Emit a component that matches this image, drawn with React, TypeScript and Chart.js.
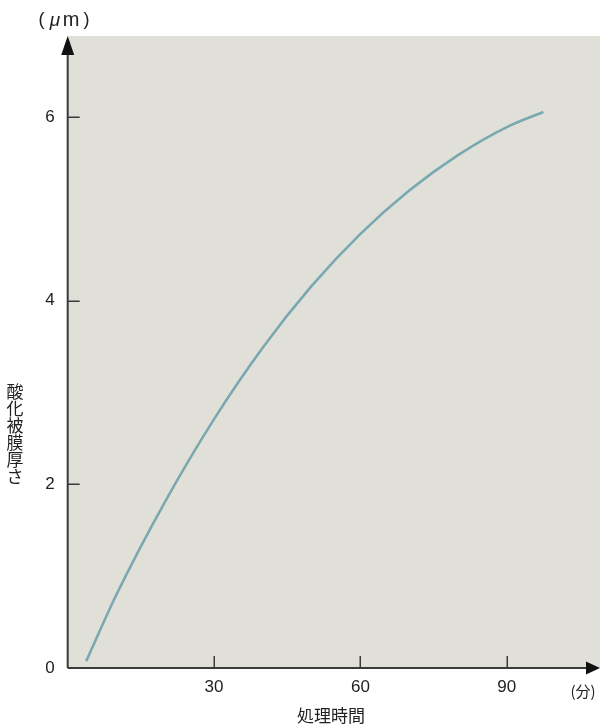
import React, { useEffect, useRef } from "react";
import { Chart, registerables } from "chart.js";

Chart.register(...registerables);

const timeMin: number[] = [3.8, 10, 20, 30, 40, 50, 60, 70, 80, 90, 97.5];
const thickness: number[] = [0.075, 0.8, 1.815, 2.71, 3.49, 4.16, 4.728, 5.2, 5.585, 5.89, 6.055];
const xTicks: number[] = [30, 60, 90];
const yTicks: number[] = [0, 2, 4, 6];
const xTitle = "処理時間";
const xUnit = "(分)";
const yTitle = "酸化被膜厚さ";

const LATIN = "'Liberation Sans', Arial, sans-serif";
const CJK = "'Noto Sans CJK JP', sans-serif";
const AXIS = "#3a3a3a";

const decor = {
  id: "decor",
  beforeDraw(chart: any) {
    const { ctx, chartArea } = chart;
    ctx.save();
    ctx.fillStyle = "#e1e0d8";
    ctx.fillRect(chartArea.left, chartArea.top, chartArea.right - chartArea.left, chartArea.bottom - chartArea.top);
    ctx.restore();
  },
  afterDraw(chart: any) {
    const { ctx, chartArea, scales } = chart;
    const x = scales.x;
    const y = scales.y;
    const x0 = x.getPixelForValue(0);
    const y0 = y.getPixelForValue(0);
    ctx.save();
    ctx.strokeStyle = AXIS;
    ctx.fillStyle = AXIS;
    ctx.lineWidth = 2;
    // axes
    ctx.beginPath();
    ctx.moveTo(x0, y0);
    ctx.lineTo(x0, chartArea.top + 14);
    ctx.moveTo(x0, y0);
    ctx.lineTo(chartArea.right - 12, y0);
    ctx.stroke();
    // arrows
    ctx.fillStyle = "#111";
    ctx.beginPath();
    ctx.moveTo(x0, chartArea.top);
    ctx.lineTo(x0 - 6.5, chartArea.top + 19);
    ctx.lineTo(x0 + 6.5, chartArea.top + 19);
    ctx.closePath();
    ctx.fill();
    ctx.beginPath();
    ctx.moveTo(chartArea.right, y0);
    ctx.lineTo(chartArea.right - 14, y0 - 6.5);
    ctx.lineTo(chartArea.right - 14, y0 + 6.5);
    ctx.closePath();
    ctx.fill();
    // inner ticks
    ctx.strokeStyle = AXIS;
    ctx.lineWidth = 1.5;
    ctx.beginPath();
    yTicks.forEach((v) => {
      if (v === 0) return;
      const py = Math.round(y.getPixelForValue(v)) + 0.25;
      ctx.moveTo(x0, py);
      ctx.lineTo(x0 + 12, py);
    });
    xTicks.forEach((v) => {
      const px = Math.round(x.getPixelForValue(v)) + 0.25;
      ctx.moveTo(px, y0);
      ctx.lineTo(px, y0 - 12);
    });
    ctx.stroke();
    // titles
    ctx.fillStyle = "#222";
    ctx.textAlign = "center";
    ctx.textBaseline = "middle";
    ctx.font = `17px ${CJK}`;
    const chars = Array.from(yTitle);
    chars.forEach((c, i) => {
      ctx.fillText(c, 15, 392 + i * 17);
    });
    ctx.fillText(xTitle, 331, 716);
    ctx.font = `15px ${CJK}`;
    ctx.fillText(xUnit, 583, 691);
    // (μm)
    ctx.font = `18px ${LATIN}`;
    ctx.fillText("(", 41.5, 20);
    ctx.fillText(")", 86.5, 20);
    ctx.font = `italic 19px ${LATIN}`;
    ctx.fillText("μ", 55, 21);
    ctx.font = `20px ${LATIN}`;
    ctx.fillText("m", 71, 20);
    ctx.restore();
  },
};

export default function App() {
  const ref = useRef<HTMLCanvasElement | null>(null);
  useEffect(() => {
    if (!ref.current) return;
    const chart = new Chart(ref.current, {
      type: "line",
      data: {
        datasets: [
          {
            data: timeMin.map((t, i) => ({ x: t, y: thickness[i] })),
            borderColor: "#7aa8b1",
            borderWidth: 2.6,
            pointRadius: 0,
            cubicInterpolationMode: "monotone",
            fill: false,
          },
        ],
      },
      options: {
        animation: false,
        responsive: false,
        maintainAspectRatio: false,
        layout: { padding: { top: 36, right: 0, left: 0, bottom: 0 } },
        plugins: { legend: { display: false }, tooltip: { enabled: false } },
        scales: {
          x: {
            type: "linear",
            min: 0,
            max: 109.1,
            grid: { display: false },
            border: { display: false },
            afterFit: (s: any) => {
              s.height = 56;
            },
            afterBuildTicks: (s: any) => {
              s.ticks = xTicks.map((v) => ({ value: v }));
            },
            ticks: {
              font: { family: LATIN, size: 17 },
              color: "#222",
              padding: 1,
              maxRotation: 0,
              autoSkip: false,
            },
          },
          y: {
            type: "linear",
            min: 0,
            max: 6.882,
            grid: { display: false },
            border: { display: false },
            afterFit: (s: any) => {
              s.width = 67.7;
            },
            afterBuildTicks: (s: any) => {
              s.ticks = yTicks.map((v) => ({ value: v }));
            },
            ticks: {
              font: { family: LATIN, size: 17 },
              color: "#222",
              padding: 5,
              autoSkip: false,
            },
          },
        },
      },
      plugins: [decor],
    } as any);
    return () => chart.destroy();
  }, []);
  return (
    <div style={{ position: "absolute", left: 0, top: 0, width: 600, height: 724, background: "#fff" }}>
      <canvas ref={ref} width={600} height={724} style={{ width: 600, height: 724, display: "block" }} />
    </div>
  );
}
